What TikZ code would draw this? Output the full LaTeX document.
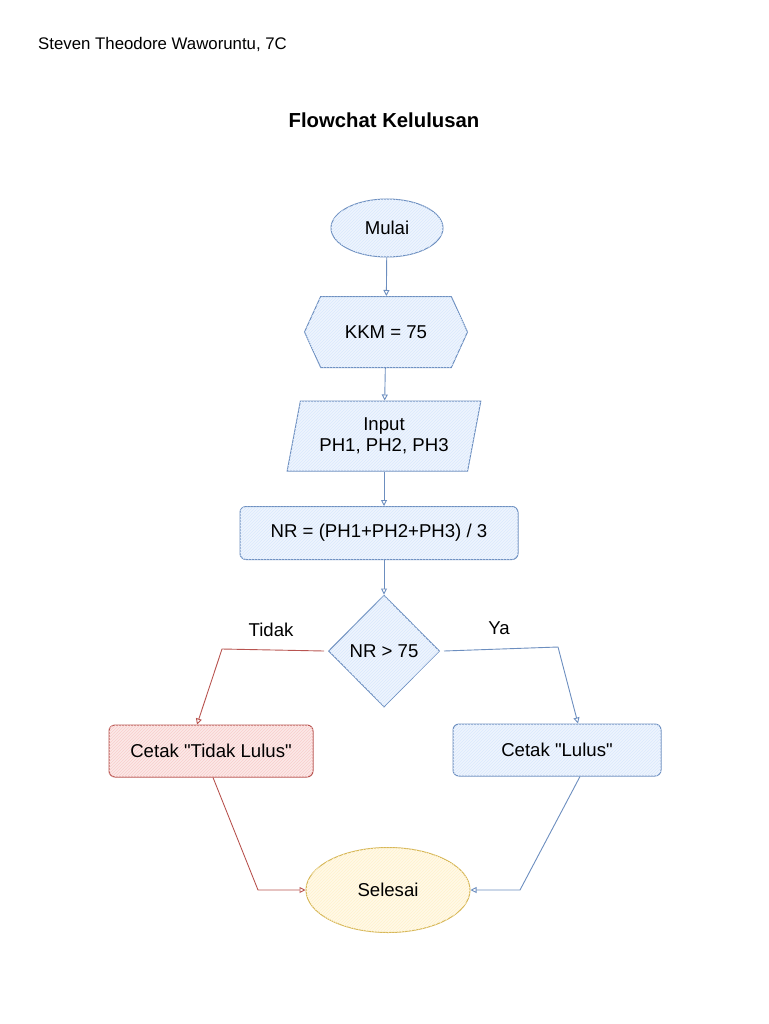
\documentclass[tikz,border=0pt]{standalone}
\usepackage{fontspec}
\setmainfont{Liberation Sans}
\usetikzlibrary{shapes.geometric,shapes.symbols,arrows.meta,patterns}
\definecolor{bluedraw}{HTML}{6C8EBF}
\definecolor{bluefill}{HTML}{DAE8FC}
\definecolor{reddraw}{HTML}{B85450}
\definecolor{redfill}{HTML}{F8CECC}
\definecolor{yellowdraw}{HTML}{D6B656}
\definecolor{yellowfill}{HTML}{FFF2CC}
\begin{document}
\begin{tikzpicture}[x=1pt, y=-1pt,
  every node/.style={font=\fontsize{18.6}{20.5}\selectfont, inner sep=0pt},
  bluebox/.style={draw=bluedraw, line width=1pt, fill=bluefill!45,
    postaction={pattern=north east lines, pattern color=bluefill}},
  redbox/.style={draw=reddraw, line width=1pt, fill=redfill!45,
    postaction={pattern=north east lines, pattern color=redfill}},
  yellowbox/.style={draw=yellowdraw, line width=1pt, fill=yellowfill!45,
    postaction={pattern=north east lines, pattern color=yellowfill}},
  blueline/.style={draw=bluedraw, line width=0.9pt, -{Triangle[open, length=6pt, width=6pt]}},
  redline/.style={draw=reddraw, line width=0.9pt, -{Triangle[open, length=6pt, width=6pt]}}]
\useasboundingbox (0,0) rectangle (768,1024);
\node[anchor=west, font=\fontsize{16.8}{20}\selectfont] (author) at (38,44) {Steven Theodore Waworuntu, 7C};
\node[font=\fontsize{20.3}{24}\selectfont\bfseries] (title) at (384,120) {Flowchat Kelulusan};
\node[ellipse, bluebox, minimum width=112pt, minimum height=58pt] (mulai) at (387,228) {Mulai};
\node[signal, signal to=west and east, signal pointer angle=131, bluebox, minimum width=163pt, minimum height=71pt] (kkm) at (386,332) {KKM = 75};
\node[trapezium, trapezium left angle=74, trapezium right angle=106, trapezium stretches=true, bluebox, minimum width=194pt, minimum height=70pt, align=center] (input) at (384,436) {Input\\PH1, PH2, PH3};
\node[rectangle, rounded corners=6pt, bluebox, minimum width=278pt, minimum height=53pt] (nr) at (379,533) {NR = (PH1+PH2+PH3) / 3};
\node[diamond, bluebox, minimum width=111pt, minimum height=112pt] (cek) at (384,651) {NR > 75};
\node[rectangle, rounded corners=6pt, redbox, minimum width=204pt, minimum height=52pt] (tidak) at (211,751) {Cetak \textquotedbl Tidak Lulus\textquotedbl};
\node[rectangle, rounded corners=6pt, bluebox, minimum width=208pt, minimum height=52pt] (lulus) at (557,750) {Cetak \textquotedbl Lulus\textquotedbl};
\node[ellipse, yellowbox, minimum width=164pt, minimum height=85pt] (selesai) at (388,890) {Selesai};
\node (ltidak) at (271,630) {Tidak};
\node (lya) at (499,628) {Ya};
\coordinate (tb) at (222,649);
\coordinate (yb) at (558,647);
\coordinate (tc) at (258,890);
\coordinate (yc) at (520,890);
\draw[blueline] (mulai) -- (kkm);
\draw[blueline] (kkm) -- (input);
\draw[blueline] (input.south) -- (input.south |- nr.north);
\draw[blueline] (nr.south -| cek.north) -- (cek);
\draw[redline] ([xshift=-4pt]cek.west) -- (tb) -- ([xshift=-14pt]tidak.north);
\draw[blueline] ([xshift=4pt]cek.east) -- (yb) -- ([xshift=21pt]lulus.north);
\draw[redline] ([xshift=2pt]tidak.south) -- (tc) -- (selesai.west);
\draw[blueline] ([xshift=23pt]lulus.south) -- (yc) -- (selesai.east);
\end{tikzpicture}
\end{document}
